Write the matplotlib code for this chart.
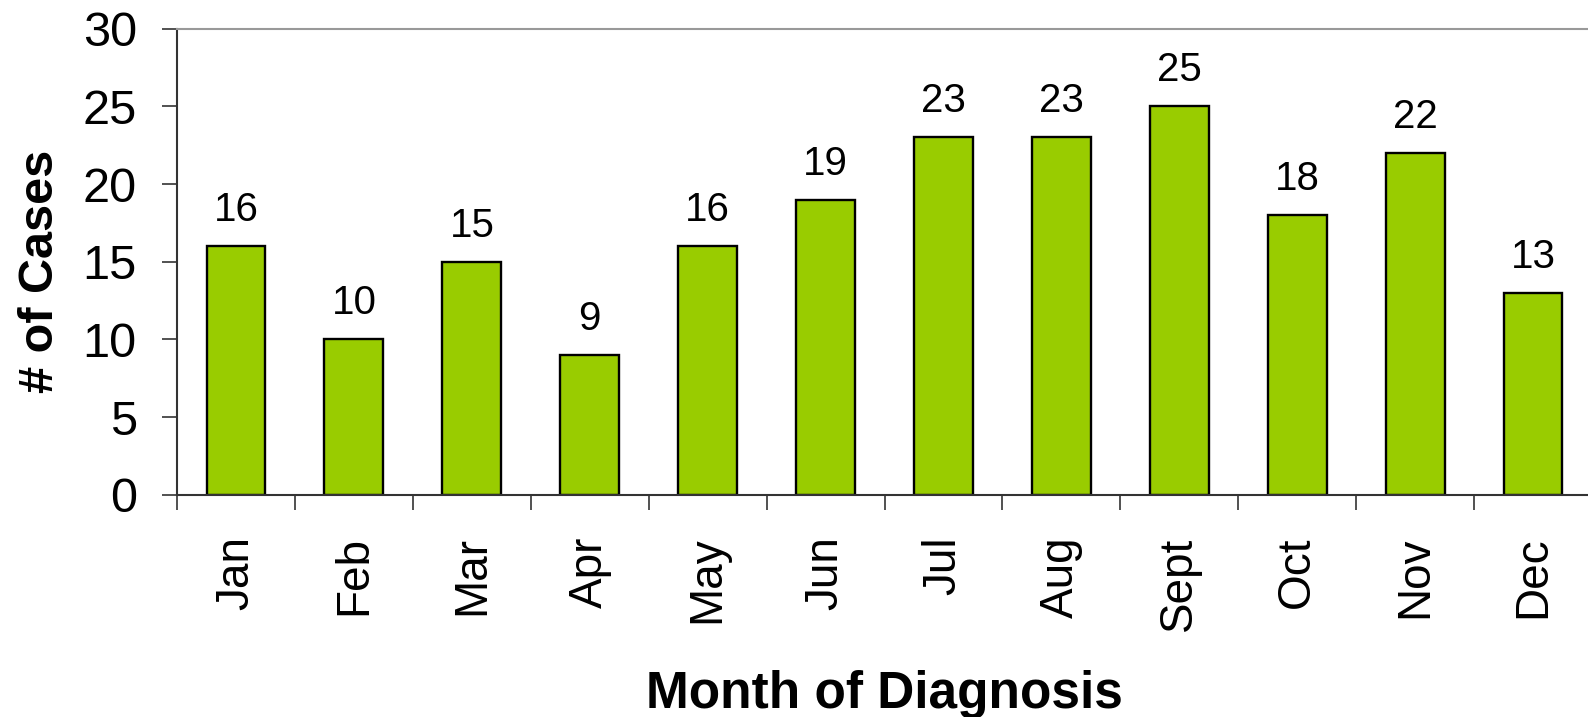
import matplotlib
matplotlib.use("Agg")
import matplotlib.pyplot as plt
import numpy as np

plt.rcParams['font.family'] = ['Liberation Sans', 'DejaVu Sans']

# 데이터
months = ["Jan", "Feb", "Mar", "Apr", "May", "Jun",
          "Jul", "Aug", "Sept", "Oct", "Nov", "Dec"]
cases = [16, 10, 15, 9, 16, 19, 23, 23, 25, 18, 22, 13]
y_ticks = [0, 5, 10, 15, 20, 25, 30]

fig = plt.figure(figsize=(15.88, 7.17), dpi=100)
ax = fig.add_axes([0.1115, 0.310, 0.891, 0.650])

x = np.arange(len(months))
bars = ax.bar(x, cases, width=0.5, color="#99CC00", edgecolor="black", linewidth=1.7)

for xi, v in zip(x, cases):
    ax.annotate(str(v), (xi, v), xytext=(0, 18), textcoords="offset points",
                ha="center", va="baseline", fontsize=29)

ax.set_xlim(-0.5, len(months) - 0.5)
ax.set_ylim(0, 30)
ax.set_yticks(y_ticks)
ax.set_yticklabels([str(t) for t in y_ticks], fontsize=35)

# 카테고리 경계에 눈금, 라벨은 중앙
ax.set_xticks(x)
ax.set_xticklabels(months, rotation=90, fontsize=33)
ax.tick_params(axis="x", which="major", length=0, pad=30)
ax.set_xticks(np.arange(-0.5, len(months), 1.0), minor=True)
ax.tick_params(axis="x", which="minor", length=11, width=1.2, color="#333333", direction="out")
ax.tick_params(axis="y", length=11, width=1.2, color="#333333", direction="out", pad=18)

ax.spines["right"].set_visible(False)
ax.spines["top"].set_color("#999999")
ax.spines["top"].set_linewidth(1.5)
ax.spines["left"].set_color("#333333")
ax.spines["left"].set_linewidth(1.5)
ax.spines["bottom"].set_color("#333333")
ax.spines["bottom"].set_linewidth(1.5)

# 축 제목
fig.text(0.0255, 0.622, "# of Cases", rotation=90, fontsize=35, fontweight="bold",
         ha="center", va="center")
fig.text(0.557, 0.0126, "Month of Diagnosis", fontsize=37, fontweight="bold",
         ha="center", va="baseline")

fig.savefig("out.png", dpi=100)
